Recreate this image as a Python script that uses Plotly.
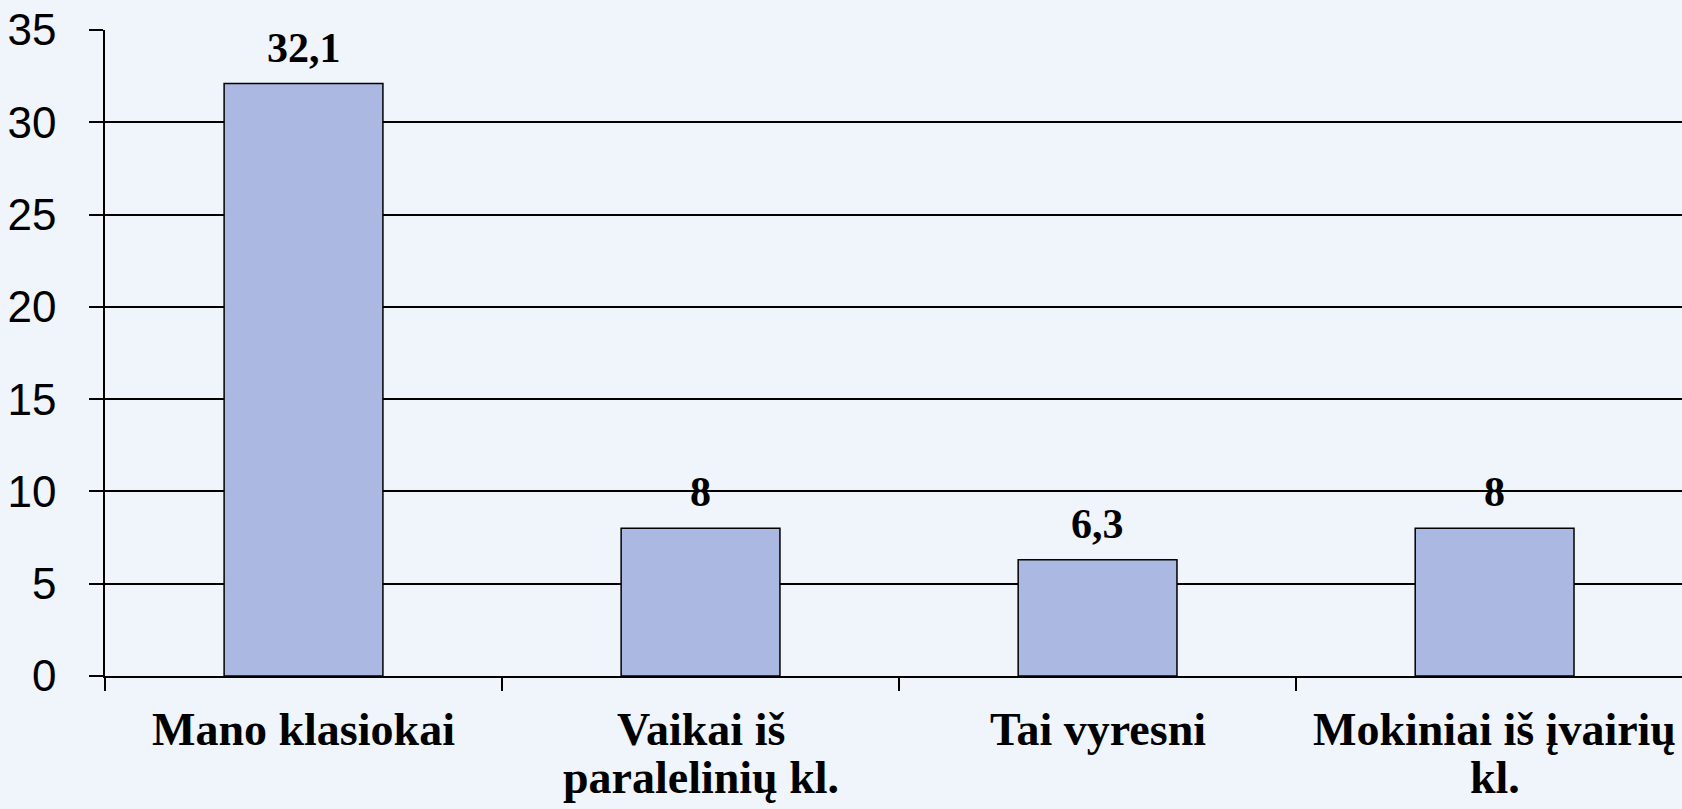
import plotly.graph_objects as go

categories = ["Mano klasiokai", "Vaikai iš paralelinių kl.", "Tai vyresni", "Mokiniai iš įvairių kl."]
label_lines = [["Mano klasiokai"], ["Vaikai iš", "paralelinių kl."], ["Tai vyresni"], ["Mokiniai iš įvairių", "kl."]]
values = [32.1, 8, 6.3, 8]
value_labels = ["32,1", "8", "6,3", "8"]
y_ticks = [0, 5, 10, 15, 20, 25, 30, 35]

BG = "#F0F4FB"
BAR = "#ABB8E2"
SERIF = "Liberation Serif, Times New Roman, serif"
SANS = "Liberation Sans, Arial, sans-serif"

x_idx = list(range(len(categories)))

fig = go.Figure()
fig.add_trace(go.Bar(
    x=x_idx, y=values, width=0.4,
    marker=dict(color=BAR, line=dict(color="black", width=1.5)),
    hoverinfo="skip",
))

annotations = []
for i, (v, t) in enumerate(zip(values, value_labels)):
    annotations.append(dict(
        x=i, y=v, xref="x", yref="y", text=f"<b>{t}</b>", showarrow=False,
        yanchor="bottom", yshift=11, font=dict(family=SERIF, size=42, color="black"),
    ))
line_shifts = [-53.5, -101.5]
for i, lines in enumerate(label_lines):
    for j, ln in enumerate(lines):
        annotations.append(dict(
            x=i, y=0, xref="x", yref="paper", text=f"<b>{ln}</b>", showarrow=False,
            yanchor="middle", yshift=line_shifts[j],
            font=dict(family=SERIF, size=46, color="black"),
        ))

fig.update_layout(
    width=1682, height=809,
    margin=dict(l=105, r=0, t=30, b=133, pad=0),
    paper_bgcolor=BG, plot_bgcolor=BG,
    showlegend=False,
    annotations=annotations,
    xaxis=dict(
        type="linear", range=[-0.5, 3.472],
        tickvals=[-0.5, 0.5, 1.5, 2.5, 3.5], ticktext=["", "", "", "", ""],
        ticks="outside", ticklen=13, tickwidth=1.5, tickcolor="black",
        showgrid=False, zeroline=False,
        showline=True, linecolor="black", linewidth=1.5,
        showticklabels=False,
    ),
    yaxis=dict(
        range=[0, 35], tickvals=y_ticks, ticktext=[str(t) for t in y_ticks],
        ticks="outside", ticklen=14, tickwidth=1.5, tickcolor="black",
        showgrid=True, gridcolor="black", gridwidth=1.5,
        zeroline=False,
        showline=True, linecolor="black", linewidth=1.5,
        tickfont=dict(family=SANS, size=44, color="black"),
        ticklabelstandoff=24,
    ),
)

fig.write_html(
    "out.html",
    config={"displayModeBar": False},
    post_script="document.body.style.margin='0';document.body.style.background='%s';" % BG,
)
